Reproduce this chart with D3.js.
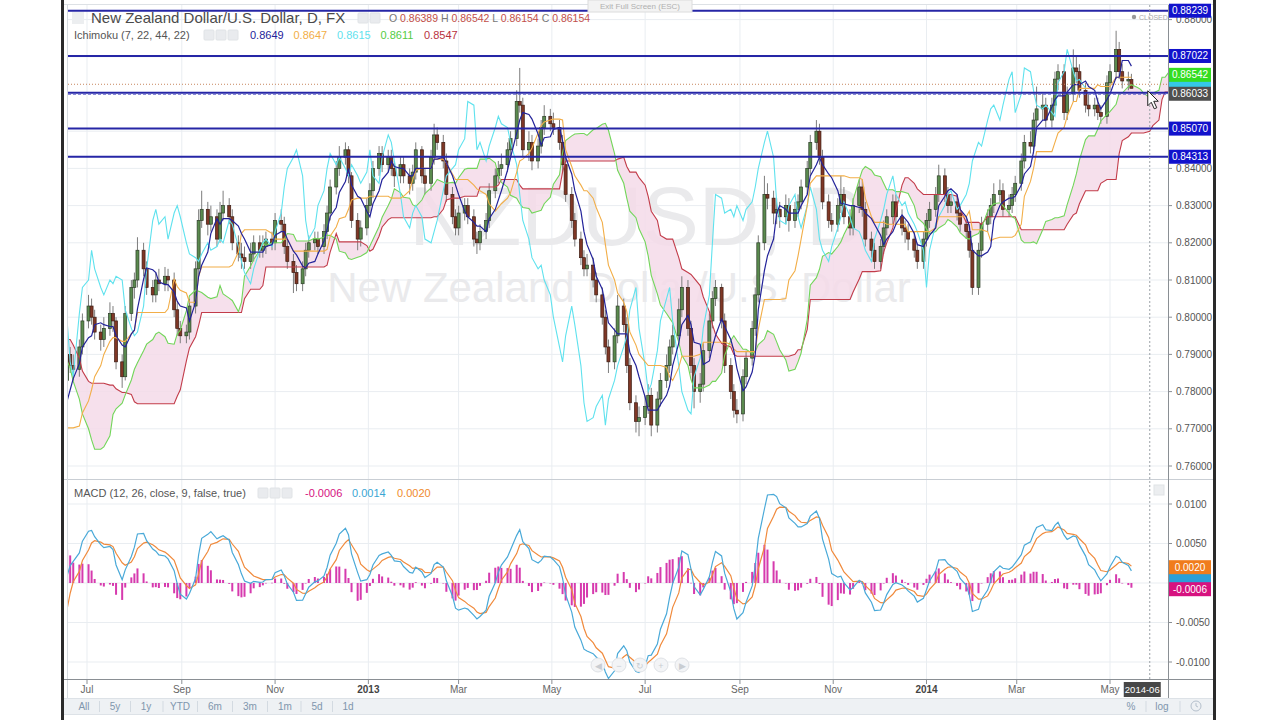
<!DOCTYPE html>
<html><head><meta charset="utf-8">
<script src="https://cdn.jsdelivr.net/npm/d3@7"></script>
<style>body{margin:0;background:#fff;} svg{display:block;font-family:"Liberation Sans",Arial,sans-serif;}</style>
</head><body><svg id="c" width="1280" height="720"></svg>
<script>
// ---------------- DATA ----------------
const firstDate = "2012-03-16";   // first (off-screen) bar
const barDays = 2;                 // each candle = 2 trading days
const firstOpen = 0.814;
const closes = [
0.812,0.809,0.811,0.814,0.811,0.813,0.815,0.812,0.809,0.812,
0.814,0.811,0.813,0.810,0.808,0.809,0.805,0.800,0.795,0.789,
0.783,0.777,0.773,0.776,0.769,0.762,0.756,0.751,0.757,0.764,
0.770,0.776,0.783,
0.790,0.787,0.786,0.792,0.799,0.803,0.800,0.796,0.794,0.797,
0.801,0.799,0.788,0.784,0.801,0.808,0.810,0.818,0.813,0.808,
0.806,0.810,0.809,0.811,0.810,0.802,0.797,0.795,0.796,0.803,
0.813,0.826,0.829,0.825,0.827,0.821,0.828,0.830,0.827,0.820,
0.817,0.816,0.815,0.817,0.820,0.818,0.819,0.821,0.820,0.826,
0.825,0.819,0.815,0.812,0.809,0.813,0.818,0.820,0.821,0.819,
0.823,0.828,0.835,0.840,0.843,0.845,0.838,0.826,0.821,0.824,
0.830,0.834,0.840,0.844,0.841,0.843,0.840,0.838,0.841,0.838,
0.836,0.839,0.845,0.838,0.836,0.843,0.849,0.847,0.842,0.833,
0.827,0.824,0.828,0.830,0.827,0.821,0.820,0.823,0.826,0.834,
0.838,0.840,0.841,0.845,0.848,0.858,0.857,0.845,0.847,0.842,
0.846,0.851,0.854,0.852,0.851,0.847,0.841,0.833,0.826,0.821,
0.816,0.813,0.814,0.810,0.806,0.800,0.792,0.788,0.795,0.803,
0.798,0.787,0.777,0.772,0.773,0.776,0.779,0.771,0.778,0.783,
0.787,0.792,0.795,0.802,0.808,0.797,0.787,0.780,0.782,0.791,
0.799,0.805,0.808,0.799,0.787,0.780,0.775,0.774,0.784,0.789,
0.797,0.806,0.820,0.833,0.832,0.828,0.829,0.827,0.830,0.826,
0.829,0.831,0.835,0.840,0.847,0.850,0.843,0.831,0.826,0.825,
0.830,0.833,0.827,0.824,0.830,0.835,0.829,0.821,0.818,0.815,
0.819,0.824,0.827,0.831,0.827,0.824,0.823,0.821,0.818,0.815,
0.821,0.826,0.829,0.833,0.838,0.833,0.830,0.831,0.828,0.825,
0.823,0.818,0.808,0.818,0.825,0.827,0.830,0.833,0.834,0.829,
0.830,0.833,0.836,0.842,0.847,0.846,0.853,0.856,0.857,0.853,
0.857,0.864,0.866,0.855,0.860,0.867,0.866,0.861,0.857,0.856,
0.857,0.855,0.854,0.863,0.866,0.872,0.866,0.8635,0.86389,0.86154];
const highs = [
0.816,0.814,0.813,0.816,0.817,0.815,0.818,0.817,0.813,0.814,
0.817,0.815,0.816,0.814,0.812,0.812,0.811,0.807,0.802,0.797,
0.791,0.785,0.780,0.779,0.778,0.771,0.764,0.758,0.760,0.766,
0.772,0.779,0.785,
0.793,0.792,0.790,0.794,0.801,0.806,0.805,0.802,0.798,0.800,
0.804,0.803,0.800,0.790,0.803,0.810,0.812,0.8215,0.820,0.815,
0.810,0.812,0.813,0.8135,0.813,0.812,0.804,0.799,0.798,0.805,
0.815,0.829,0.834,0.831,0.830,0.829,0.831,0.834,0.832,0.829,
0.822,0.820,0.819,0.820,0.822,0.822,0.822,0.823,0.823,0.828,
0.829,0.827,0.821,0.817,0.814,0.815,0.820,0.822,0.823,0.823,
0.825,0.830,0.837,0.842,0.846,0.847,0.846,0.839,0.828,0.826,
0.832,0.836,0.842,0.846,0.846,0.845,0.845,0.842,0.843,0.843,
0.840,0.841,0.847,0.846,0.840,0.845,0.852,0.851,0.849,0.844,
0.835,0.829,0.830,0.832,0.832,0.829,0.823,0.825,0.828,0.836,
0.840,0.842,0.844,0.847,0.850,0.861,0.867,0.859,0.850,0.849,
0.848,0.853,0.857,0.856,0.855,0.853,0.849,0.843,0.835,0.828,
0.823,0.818,0.817,0.816,0.812,0.808,0.802,0.794,0.797,0.806,
0.805,0.800,0.789,0.779,0.776,0.779,0.782,0.781,0.780,0.785,
0.790,0.794,0.798,0.805,0.811,0.810,0.799,0.789,0.785,0.793,
0.801,0.807,0.810,0.809,0.801,0.789,0.782,0.778,0.786,0.791,
0.799,0.808,0.822,0.838,0.836,0.834,0.832,0.831,0.833,0.832,
0.831,0.833,0.837,0.842,0.849,0.853,0.852,0.845,0.833,0.828,
0.832,0.838,0.835,0.829,0.832,0.837,0.837,0.831,0.823,0.820,
0.821,0.826,0.829,0.833,0.833,0.829,0.826,0.825,0.823,0.820,
0.823,0.828,0.831,0.835,0.841,0.840,0.835,0.833,0.833,0.830,
0.827,0.825,0.820,0.820,0.827,0.829,0.832,0.836,0.837,0.836,
0.833,0.835,0.838,0.844,0.849,0.850,0.855,0.862,0.860,0.859,
0.859,0.866,0.868,0.868,0.862,0.872,0.870,0.868,0.863,0.860,
0.859,0.859,0.857,0.865,0.868,0.877,0.874,0.868,0.866,0.86542];
const lows = [
0.810,0.807,0.807,0.809,0.810,0.809,0.811,0.810,0.807,0.807,
0.810,0.809,0.809,0.808,0.806,0.805,0.803,0.798,0.793,0.787,
0.781,0.775,0.770,0.771,0.767,0.760,0.753,0.7475,0.749,0.755,
0.762,0.768,0.774,
0.781,0.785,0.783,0.784,0.790,0.797,0.798,0.794,0.791,0.792,
0.795,0.796,0.786,0.781,0.783,0.799,0.805,0.808,0.811,0.806,
0.804,0.804,0.807,0.807,0.807,0.800,0.795,0.793,0.793,0.794,
0.801,0.811,0.824,0.822,0.823,0.819,0.820,0.826,0.825,0.818,
0.815,0.813,0.813,0.813,0.815,0.816,0.816,0.817,0.818,0.818,
0.823,0.817,0.813,0.8065,0.807,0.807,0.811,0.816,0.818,0.817,
0.817,0.821,0.826,0.833,0.838,0.841,0.836,0.824,0.818,0.819,
0.822,0.828,0.832,0.838,0.839,0.839,0.838,0.835,0.836,0.836,
0.833,0.834,0.837,0.836,0.833,0.834,0.841,0.845,0.840,0.831,
0.825,0.822,0.822,0.826,0.825,0.819,0.817,0.818,0.821,0.824,
0.832,0.836,0.838,0.839,0.843,0.846,0.855,0.843,0.842,0.8395,
0.840,0.844,0.849,0.850,0.849,0.845,0.839,0.831,0.824,0.819,
0.814,0.811,0.811,0.808,0.804,0.798,0.790,0.785,0.786,0.793,
0.796,0.785,0.775,0.769,0.768,0.771,0.774,0.768,0.769,0.776,
0.781,0.785,0.790,0.793,0.800,0.795,0.785,0.7755,0.777,0.780,
0.789,0.797,0.803,0.797,0.785,0.778,0.773,0.7715,0.772,0.782,
0.787,0.795,0.804,0.818,0.829,0.825,0.825,0.824,0.825,0.823,
0.824,0.827,0.829,0.833,0.838,0.845,0.841,0.829,0.824,0.823,
0.823,0.828,0.825,0.822,0.822,0.828,0.827,0.819,0.816,0.813,
0.813,0.817,0.822,0.825,0.825,0.822,0.820,0.818,0.816,0.813,
0.813,0.819,0.824,0.827,0.831,0.831,0.828,0.828,0.826,0.823,
0.821,0.816,0.806,0.806,0.816,0.823,0.825,0.828,0.831,0.827,
0.827,0.828,0.831,0.834,0.840,0.844,0.844,0.851,0.853,0.851,
0.851,0.855,0.861,0.853,0.853,0.858,0.863,0.859,0.855,0.854,
0.854,0.853,0.852,0.852,0.861,0.864,0.864,0.8615,0.861,0.86154];

const levelLines = [0.88239, 0.87022, 0.86033, 0.85070, 0.84313];
const priceTicks = [0.76,0.77,0.78,0.79,0.80,0.81,0.82,0.83,0.84,0.85,0.86,0.87,0.88];
const macdTicks = [0.01, 0.005, 0, -0.005, -0.01];
const monthTicks = ["2012-07-01","2012-09-01","2012-11-01","2013-01-01","2013-03-01","2013-05-01",
                    "2013-07-01","2013-09-01","2013-11-01","2014-01-01","2014-03-01","2014-05-01"];
const monthLabels = ["Jul","Sep","Nov","2013","Mar","May","Jul","Sep","Nov","2014","Mar","May"];
const ichimokuDays = {tenkan: 7, kijun: 22, spanB: 44, disp: 22};
const macdDays = {fast: 12, slow: 26, signal: 9};
const titleText = "New Zealand Dollar/U.S. Dollar, D, FX";
const ohlcKeys = ["O","H","L","C"];
const ohlcVals = ["0.86389","0.86542","0.86154","0.86154"];
const ichiLabel = "Ichimoku (7, 22, 44, 22)";
const ichiVals = ["0.8649","0.8647","0.8615","0.8611","0.8547"];
const macdLabel = "MACD (12, 26, close, 9, false, true)";
const macdVals = ["-0.0006","0.0014","0.0020"];
const priceMarks = [{v:0.8615,c:"#35c8e8",label:false},{v:0.86542,c:"#33dd22",label:true}];
const crossPrice = 0.86033;
const crossDate = "2014-05-27";
const crossLabel = "2014-06";
const rangeButtons = ["All","5y","1y","YTD","6m","3m","1m","5d","1d"];

// ---------------- SETUP ----------------
const svg = d3.select("#c");
const parse = d3.timeParse("%Y-%m-%d");
const L = 68, R = 1168, mT = 5, mB = 478, qT = 481, qB = 679;
const N = closes.length;
const perBar = n => Math.max(1, Math.round(n / barDays));
const tenN = perBar(ichimokuDays.tenkan), kijN = perBar(ichimokuDays.kijun),
      sbN = perBar(ichimokuDays.spanB), disp = perBar(ichimokuDays.disp);

const dates = [];
{ let d = parse(firstDate); dates.push(new Date(d));
  for (let i = 1; i < N + disp; i++) { let c = 0; while (c < barDays) { d.setDate(d.getDate()+1); const w = d.getDay(); if (w !== 0 && w !== 6) c++; } dates.push(new Date(d)); } }
const opens = closes.map((c, i) => i === 0 ? firstOpen : closes[i-1]);

const x = d3.scaleTime().domain([parse("2012-07-01"), parse("2014-05-01")]).range([87, 1110]);
const y = d3.scaleLinear().domain([0.76, 0.88]).range([466, 19.6]);
const yq = d3.scaleLinear().domain([-0.01, 0.01]).range([662, 504]);

// indicators
function midRange(i, n){ if (i-n+1 < 0) return null; let h=-Infinity,l=Infinity;
  for (let j=i-n+1;j<=i;j++){ if(highs[j]>h)h=highs[j]; if(lows[j]<l)l=lows[j]; } return (h+l)/2; }
const tenkan = closes.map((_, i) => midRange(i, tenN));
const kijun = closes.map((_, i) => midRange(i, kijN));
const spanA = new Array(N+disp).fill(null), spanB = new Array(N+disp).fill(null);
closes.forEach((_, i) => { if (tenkan[i]!=null && kijun[i]!=null) spanA[i+disp]=(tenkan[i]+kijun[i])/2;
  const b = midRange(i, sbN); if (b!=null) spanB[i+disp]=b; });
function ema(arr, days){ const a = 1 - Math.pow(1 - 2/(days+1), barDays); let e = arr[0];
  return arr.map((v,i)=> (e = i===0 ? v : e + a*(v-e))); }
const fast = ema(closes, macdDays.fast), slow = ema(closes, macdDays.slow);
const macd = closes.map((_, i) => fast[i]-slow[i]);
const signal = ema(macd, macdDays.signal);
const hist = macd.map((m, i) => m - signal[i]);

// ---------------- FRAME ----------------
svg.append("rect").attr("width",1280).attr("height",720).attr("fill","#fff");
svg.append("rect").attr("x",61).attr("y",0).attr("width",3).attr("height",720).attr("fill","#2a2a2a");
svg.append("rect").attr("x",1213).attr("y",0).attr("width",3).attr("height",720).attr("fill","#2a2a2a");

const defs = svg.append("defs");
defs.append("clipPath").attr("id","cm").append("rect").attr("x",L).attr("y",mT).attr("width",R-L).attr("height",mB-mT);
defs.append("clipPath").attr("id","cq").append("rect").attr("x",L).attr("y",qT).attr("width",R-L).attr("height",qB-qT);

const grid = "#e9edf1";
const mTicks = monthTicks.map(parse);
const g0 = svg.append("g");
mTicks.forEach(d => { g0.append("line").attr("x1",x(d)).attr("x2",x(d)).attr("y1",mT).attr("y2",qB).attr("stroke",grid); });
priceTicks.forEach(v => g0.append("line").attr("x1",L).attr("x2",R).attr("y1",y(v)).attr("y2",y(v)).attr("stroke",grid));
macdTicks.forEach(v => g0.append("line").attr("x1",L).attr("x2",R).attr("y1",yq(v)).attr("y2",yq(v)).attr("stroke",grid));

svg.append("line").attr("x1",64).attr("x2",1213).attr("y1",479.5).attr("y2",479.5).attr("stroke","#c9ced4");
svg.append("line").attr("x1",L-0.5).attr("x2",L-0.5).attr("y1",4).attr("y2",698).attr("stroke","#d6dbe0");
svg.append("line").attr("x1",R+0.5).attr("x2",R+0.5).attr("y1",4).attr("y2",698).attr("stroke","#8a8f94");
svg.append("line").attr("x1",64).attr("x2",1213).attr("y1",679.5).attr("y2",679.5).attr("stroke","#8a8f94");
svg.append("line").attr("x1",64).attr("x2",1213).attr("y1",4.5).attr("y2",4.5).attr("stroke","#dde1e5");

// watermark
svg.append("text").attr("x",638).attr("y",245).attr("text-anchor","middle").attr("font-size",84)
  .attr("fill","#eaeaec").text("NZDUSD, D");
svg.append("text").attr("x",619).attr("y",302).attr("text-anchor","middle").attr("font-size",42)
  .attr("fill","#eaeaec").text("New Zealand Dollar/U.S. Dollar");

// ---------------- MAIN PANE ----------------
const gm = svg.append("g").attr("clip-path","url(#cm)");
const idx = d3.range(N + disp);
gm.append("path").datum(idx).attr("fill","#f4dbe9").attr("fill-opacity",0.85)
  .attr("d", d3.area().defined(i => spanA[i]!=null && spanB[i]!=null)
    .x(i => x(dates[i])).y0(i => y(spanA[i])).y1(i => y(spanB[i])));

const gc = gm.append("g");
closes.forEach((c, i) => {
  const cx = x(dates[i]), o = opens[i], up = c >= o;
  gc.append("line").attr("x1",cx).attr("x2",cx).attr("y1",y(highs[i])).attr("y2",y(lows[i]))
    .attr("stroke","#7d7d7d").attr("stroke-width",1);
  const yt = y(Math.max(o,c)), yb = y(Math.min(o,c));
  gc.append("rect").attr("x",cx-1.5).attr("width",3).attr("y",yt).attr("height",Math.max(1,yb-yt))
    .attr("fill", up ? "#5a8a4e" : "#7f3726").attr("stroke", up ? "#2d3d28" : "#3d1c12").attr("stroke-width",0.7);
});

const lineGen = arr => d3.line().defined(i => arr[i]!=null).x(i => x(dates[i])).y(i => y(arr[i]));
gm.append("path").datum(idx).attr("fill","none").attr("stroke","#c23c4a").attr("stroke-width",1.1).attr("d", lineGen(spanB));
gm.append("path").datum(idx).attr("fill","none").attr("stroke","#72d65a").attr("stroke-width",1.1).attr("d", lineGen(spanA));
const chikIdx = d3.range(disp, N);
gm.append("path").datum(chikIdx).attr("fill","none").attr("stroke","#5fe2ee").attr("stroke-width",1.1)
  .attr("d", d3.line().x(i => x(dates[i-disp])).y(i => y(closes[i])));
const cIdx = d3.range(N);
gm.append("path").datum(cIdx).attr("fill","none").attr("stroke","#f2ae48").attr("stroke-width",1.1).attr("d", lineGen(kijun));
gm.append("path").datum(cIdx).attr("fill","none").attr("stroke","#23239a").attr("stroke-width",1.2).attr("d", lineGen(tenkan));

levelLines.forEach(v => gm.append("line").attr("x1",L).attr("x2",R).attr("y1",y(v)).attr("y2",y(v))
  .attr("stroke","#2626a6").attr("stroke-width",2));
gm.append("line").attr("x1",L).attr("x2",R).attr("y1",y(closes[N-1])-4).attr("y2",y(closes[N-1])-4)
  .attr("stroke","#c8865e").attr("stroke-dasharray","1,2").attr("stroke-width",1);
gm.append("line").attr("x1",L).attr("x2",R).attr("y1",y(crossPrice)+1.5).attr("y2",y(crossPrice)+1.5)
  .attr("stroke","#6a6ad0").attr("stroke-dasharray","3,2").attr("stroke-width",1);

const cxX = x(parse(crossDate));
svg.append("line").attr("x1",cxX).attr("x2",cxX).attr("y1",mT).attr("y2",qB).attr("stroke","#9aa0a6").attr("stroke-dasharray","2,2");

svg.append("circle").attr("cx",1134).attr("cy",17).attr("r",2.2).attr("fill","#999");
svg.append("text").attr("x",1139).attr("y",19.5).attr("font-size",7).attr("fill","#aaa").text("CLOSED");

// price axis
const markYs = levelLines.map(y).concat([y(crossPrice)]);
priceTicks.filter(v => d3.min(markYs, m => Math.abs(m - y(v))) > 5).forEach(v => {
  svg.append("line").attr("x1",R).attr("x2",R+4).attr("y1",y(v)).attr("y2",y(v)).attr("stroke","#8a8f94");
  svg.append("text").attr("x",1176).attr("y",y(v)+3.5).attr("font-size",10).attr("fill","#555").text(v.toFixed(5));
});
function box(yc, txt, fill, col){
  svg.append("rect").attr("x",1169).attr("y",yc-7).attr("width",42).attr("height",14).attr("fill",fill);
  if (txt) svg.append("text").attr("x",1190).attr("y",yc+3.5).attr("text-anchor","middle").attr("font-size",10)
    .attr("fill",col||"#fff").text(txt);
}
levelLines.forEach(v => box(y(v), v.toFixed(5), "#1212cc"));
priceMarks.forEach(m => box(y(m.v) - (m.label ? -1 : 2), m.label ? m.v.toFixed(5) : null, m.c));
box(y(crossPrice)+1, crossPrice.toFixed(5), "#4f4f4f");

svg.append("path").attr("transform",`translate(${cxX-2},${y(crossPrice)-2})`)
  .attr("d","M0,0 L0,15 L3.5,11.5 L6.5,18 L9,17 L6,10.5 L10.5,10.5 Z").attr("fill","#fff").attr("stroke","#222").attr("stroke-width",1);

// ---------------- MACD PANE ----------------
const gq = svg.append("g").attr("clip-path","url(#cq)");
cIdx.forEach(i => { const hx = x(dates[i]);
  gq.append("rect").attr("x",hx-1).attr("width",2).attr("y",Math.min(yq(0),yq(hist[i])))
    .attr("height",Math.max(0.5,Math.abs(yq(hist[i])-yq(0)))).attr("fill","#d63aae"); });
gq.append("path").datum(cIdx).attr("fill","none").attr("stroke","#f08a3c").attr("stroke-width",1.2)
  .attr("d", d3.line().x(i => x(dates[i])).y(i => yq(signal[i])));
gq.append("path").datum(cIdx).attr("fill","none").attr("stroke","#49a9d8").attr("stroke-width",1.2)
  .attr("d", d3.line().x(i => x(dates[i])).y(i => yq(macd[i])));

macdTicks.filter(v => v !== 0).forEach(v => {
  svg.append("line").attr("x1",R).attr("x2",R+4).attr("y1",yq(v)).attr("y2",yq(v)).attr("stroke","#8a8f94");
  svg.append("text").attr("x",1176).attr("y",yq(v)+3.5).attr("font-size",10).attr("fill","#555").text(v.toFixed(4));
});
const qCols = ["#d6127f","#2a9fd8","#f07c1c"];
const qVals = macdVals.map(Number);
let prevY = -Infinity; const qY = [];
[2,1,0].forEach(k => { const yy = Math.max(yq(qVals[k]), prevY + 11); qY[k] = yy; prevY = yy; });
box(qY[1], null, qCols[1]);
box(qY[2], macdVals[2], qCols[2]);
box(qY[0], macdVals[0], qCols[0]);

[598,619,640,661,682].forEach((bx,j) => {
  svg.append("circle").attr("cx",bx).attr("cy",665).attr("r",7).attr("fill","#f3f4f6").attr("stroke","#dfe2e6");
  svg.append("text").attr("x",bx).attr("y",668.5).attr("text-anchor","middle").attr("font-size",9).attr("fill","#c9cdd2")
    .text(["◀","−","↻","+","▶"][j]);
});
svg.append("rect").attr("x",1154).attr("y",485).attr("width",10).attr("height",10).attr("fill","#eceef0").attr("stroke","#e0e3e6");

// ---------------- TIME AXIS ----------------
mTicks.forEach((d, i) => {
  svg.append("line").attr("x1",x(d)).attr("x2",x(d)).attr("y1",680).attr("y2",684).attr("stroke","#8a8f94");
  const yr = /^\d{4}$/.test(monthLabels[i]);
  svg.append("text").attr("x",x(d)).attr("y",693).attr("text-anchor","middle").attr("font-size",10)
    .attr("font-weight", yr ? "bold" : "normal").attr("fill", yr ? "#444" : "#666").text(monthLabels[i]);
});
svg.append("rect").attr("x",cxX-26).attr("y",682).attr("width",37).attr("height",15).attr("fill","#474747");
svg.append("text").attr("x",cxX-7.5).attr("y",693).attr("text-anchor","middle").attr("font-size",9.5).attr("fill","#fff").text(crossLabel);

svg.append("rect").attr("x",64).attr("y",698).attr("width",1149).attr("height",17).attr("fill","#eef1f4");
svg.append("line").attr("x1",64).attr("x2",1213).attr("y1",698.5).attr("y2",698.5).attr("stroke","#dde2e7");
svg.append("line").attr("x1",64).attr("x2",1213).attr("y1",714.5).attr("y2",714.5).attr("stroke","#dde2e7");
const bX = [84,115,146,180,215,250,285,317,348];
rangeButtons.forEach((b,i) => {
  svg.append("text").attr("x",bX[i]).attr("y",710).attr("text-anchor","middle").attr("font-size",10).attr("fill","#8096ad").text(b);
  if (i < rangeButtons.length-1) svg.append("line").attr("x1",(bX[i]+bX[i+1])/2).attr("x2",(bX[i]+bX[i+1])/2)
    .attr("y1",701).attr("y2",712).attr("stroke","#d3dae1");
});
svg.append("text").attr("x",1131).attr("y",710).attr("text-anchor","middle").attr("font-size",10).attr("fill","#8096ad").text("%");
svg.append("text").attr("x",1162).attr("y",710).attr("text-anchor","middle").attr("font-size",10).attr("fill","#8096ad").text("log");
[1146,1180].forEach(sx => svg.append("line").attr("x1",sx).attr("x2",sx).attr("y1",701).attr("y2",712).attr("stroke","#d3dae1"));
svg.append("circle").attr("cx",1196).attr("cy",706).attr("r",5).attr("fill","none").attr("stroke","#b5c0cc");
svg.append("path").attr("d","M1196,703 L1196,706 L1198,707").attr("fill","none").attr("stroke","#b5c0cc");

svg.append("rect").attr("x",588).attr("y",0).attr("width",104).attr("height",12).attr("fill","#f3f3f3").attr("stroke","#dcdcdc");
svg.append("text").attr("x",640).attr("y",9).attr("text-anchor","middle").attr("font-size",8).attr("fill","#b0b0b0").text("Exit Full Screen (ESC)");

// ---------------- LEGENDS ----------------
function icons(x0, yc, n){ for (let k=0;k<n;k++) svg.append("rect").attr("x",x0+k*12).attr("y",yc-5).attr("width",10).attr("height",10)
  .attr("rx",1).attr("fill","#e9ebee").attr("stroke","#e0e3e6"); }
svg.append("rect").attr("x",72).attr("y",12).attr("width",12).attr("height",12).attr("fill","#eceef0");
svg.append("text").attr("x",91).attr("y",23).attr("font-size",15).attr("fill","#4a4a4a").text(titleText);
icons(358, 18, 2);
const t1 = svg.append("text").attr("x",389).attr("y",22).attr("font-size",10.5);
ohlcKeys.forEach((k,i) => { t1.append("tspan").attr("fill","#777").text((i?" ":"")+k+" ");
  t1.append("tspan").attr("fill","#c2504a").text(ohlcVals[i]); });

svg.append("text").attr("x",74).attr("y",39).attr("font-size",11).attr("fill","#555").text(ichiLabel);
icons(204, 35, 3);
const ichiCols = ["#23239a","#f2ae48","#5fe2ee","#55cc44","#b8323e"];
ichiVals.forEach((v,i) => svg.append("text").attr("x",250+i*43.5).attr("y",39).attr("font-size",11).attr("fill",ichiCols[i]).text(v));

svg.append("text").attr("x",74).attr("y",497).attr("font-size",11).attr("fill","#555").text(macdLabel);
icons(258, 493, 3);
const macdCols = ["#d6127f","#3aa6d4","#f08a2c"];
[305,352,397].forEach((lx,i) => svg.append("text").attr("x",lx).attr("y",497).attr("font-size",11).attr("fill",macdCols[i]).text(macdVals[i]));
</script></body></html>
